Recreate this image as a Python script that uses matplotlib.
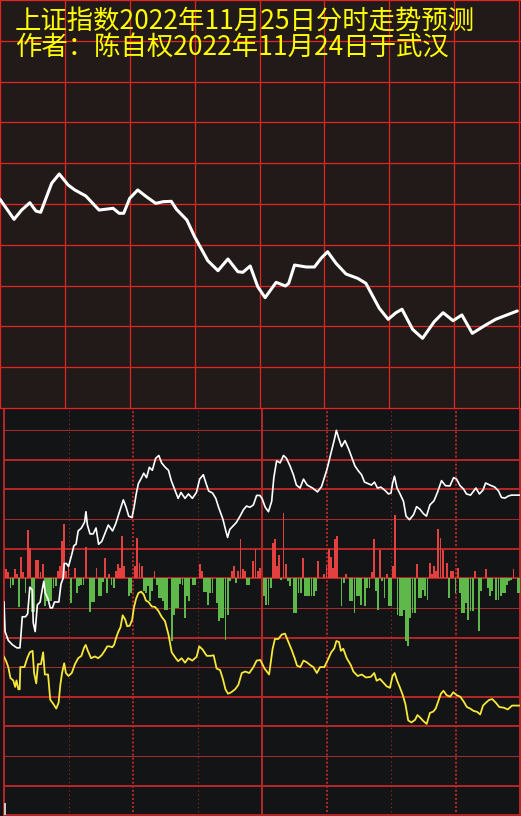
import matplotlib
matplotlib.use('Agg')
import matplotlib.pyplot as plt

# ---------------- data ----------------
title_lines = ["上证指数2022年11月25日分时走势预测", "作者：陈自权2022年11月24日于武汉"]

# forecast curve (upper panel): minute of session, index level
top_minutes = [0, 6.5, 10.0, 13.8, 16.6, 18.8, 23.9, 27.4, 31.5, 34.6, 39.7, 45.8, 52.3, 55.1, 57.2,
               60.0, 63.7, 67.7, 72.0, 75.4, 79.2, 81.6, 86.4, 90.0, 96.1, 100.8, 105.4, 110.0, 112.3,
               115.7, 119.2, 122.6, 127.7, 132.0, 133.5, 136.2, 141.6, 145.4, 148.5, 151.5, 155.4,
               160.0, 165.4, 169.2, 175.4, 179.5, 183.1, 185.9, 190.8, 195.4, 200.8, 204.9, 209.5,
               213.6, 218.4, 224.6, 229.2, 239.2]
top_price = [3100.58, 3098.12, 3099.26, 3100.16, 3099.14, 3098.98, 3102.54, 3103.68, 3102.33, 3101.72,
             3100.98, 3099.26, 3099.47, 3098.86, 3098.86, 3100.70, 3101.72, 3100.89, 3100.08, 3100.28,
             3100.33, 3099.35, 3098.04, 3095.99, 3093.05, 3091.83, 3093.26, 3091.70, 3091.63, 3092.40,
             3089.86, 3088.52, 3090.40, 3089.95, 3090.28, 3092.52, 3092.28, 3092.28, 3093.35, 3094.15,
             3092.73, 3091.42, 3090.89, 3090.28, 3087.22, 3085.87, 3086.68, 3087.10, 3084.64, 3083.54,
             3085.58, 3086.68, 3085.70, 3086.40, 3084.15, 3085.17, 3085.87, 3086.89]

# actual intraday screenshot (lower panel): % change vs previous close
white_minutes = [0, 0.5, 2, 4, 6, 7.4, 7.8, 8.5, 10, 11, 12, 13.2, 13.6, 14.5, 15.5, 16.8, 17.5, 18.5,
                 19.2, 20.5, 21.5, 22.5, 23.5, 25.5, 26.5, 27.5, 28, 29, 30, 31.5, 32.5, 33.5, 34.5, 36,
                 37.5, 38.1, 38.8, 40, 41.5, 42.8, 44, 45.5, 47, 48.5, 50.5, 52, 53.5, 55.5, 56.8, 58,
                 59.5, 60.5, 61.5, 62.5, 64, 65, 66.3, 67.6, 69, 70.5, 72, 73.3, 75, 76.5, 77.8, 79.5,
                 81, 82.3, 84.2, 85.8, 87.6, 89.5, 91, 92.7, 94, 95.2, 97, 98.5, 99.8, 101.8, 103, 104,
                 105, 106.7, 108, 109.8, 111.4, 112.8, 114.4, 116, 117.5, 119, 120, 121.5, 123, 124.5,
                 125.5, 126.8, 128.4, 130, 131.4, 133, 134.6, 136, 137.7, 139.3, 141, 143.5, 145.8,
                 147.7, 149, 150.3, 151.8, 153.7, 154.6, 155.6, 157, 158.6, 160.4, 161.9, 163.2, 164.9,
                 166.3, 167.7, 169.3, 170.9, 172.3, 173.7, 175.3, 177.2, 178.8, 180, 180.7, 181.6,
                 182.8, 184.2, 185.8, 187, 188.6, 190.5, 191.9, 193.5, 195.1, 196.5, 198.1, 200, 201.6,
                 203.5, 205.3, 207.4, 209.1, 210.5, 212.1, 213.7, 215.1, 217, 219.5, 221.1, 222.8, 224,
                 226, 228.3, 230, 231.4, 233, 234.6, 236, 240]
white_pct = [-0.08, -0.18, -0.21, -0.225, -0.235, -0.235, -0.20, -0.13, -0.13, -0.12, -0.03, -0.04,
             -0.15, -0.18, -0.09, -0.08, -0.05, -0.01, -0.05, -0.07, -0.10, -0.10, -0.08, -0.08, -0.02,
             0.0, 0.05, 0.05, 0.04, 0.08, 0.11, 0.115, 0.16, 0.17, 0.19, 0.225, 0.18, 0.15, 0.15, 0.17,
             0.115, 0.125, 0.153, 0.18, 0.16, 0.185, 0.22, 0.265, 0.24, 0.21, 0.205, 0.24, 0.285,
             0.32, 0.34, 0.355, 0.34, 0.375, 0.365, 0.405, 0.415, 0.39, 0.375, 0.365, 0.33, 0.298,
             0.27, 0.29, 0.27, 0.285, 0.27, 0.29, 0.335, 0.35, 0.32, 0.295, 0.288, 0.27, 0.24, 0.20,
             0.165, 0.138, 0.165, 0.178, 0.188, 0.21, 0.232, 0.244, 0.24, 0.248, 0.28, 0.28, 0.27,
             0.24, 0.225, 0.26, 0.34, 0.397, 0.39, 0.415, 0.405, 0.38, 0.35, 0.315, 0.305, 0.335,
             0.315, 0.305, 0.292, 0.31, 0.34, 0.37, 0.415, 0.47, 0.50, 0.475, 0.445, 0.465, 0.435,
             0.405, 0.38, 0.362, 0.35, 0.325, 0.32, 0.315, 0.325, 0.305, 0.308, 0.297, 0.285, 0.288,
             0.32, 0.345, 0.305, 0.285, 0.26, 0.21, 0.198, 0.215, 0.242, 0.233, 0.218, 0.21, 0.248,
             0.262, 0.29, 0.33, 0.313, 0.312, 0.34, 0.335, 0.313, 0.302, 0.285, 0.281, 0.305, 0.285,
             0.298, 0.322, 0.315, 0.308, 0.295, 0.273, 0.271, 0.278, 0.281, 0.281]

yellow_minutes = [0, 1, 2, 3, 4.3, 5.2, 5.8, 6.7, 7.3, 7.6, 9.5, 10.8, 12, 13.3, 14, 15, 15.8, 17.2, 18.2,
                  19, 20.5, 21.5, 23, 24.3, 25.4, 26.2, 27, 28, 28.8, 30, 31.5, 33, 34.5, 36, 37.2, 38,
                  39, 40.5, 42.3, 43.8, 45.4, 46.8, 48, 49.2, 50.3, 51.2, 52.2, 53.2, 54.2, 55.2, 56.4,
                  57.3, 58.5, 59.6, 60.4, 61.4, 62.5, 63.8, 65, 66, 67.2, 68.7, 70.3, 71.8, 73.3, 74.9,
                  76.5, 78, 79.9, 81, 82.6, 84.2, 85.7, 87.6, 89.6, 90.8, 92.3, 94.3, 96, 97.5, 98.9,
                  100.5, 101.8, 103, 104.2, 105.7, 107.5, 109, 110.6, 112.2, 114.1, 116, 117.5, 119.2,
                  121.2, 123.3, 124.9, 126, 127.6, 129.2, 130.7, 132.3, 133.8, 135.2, 136.3, 137.8,
                  139.3, 140.9, 142.4, 143.9, 145.5, 147, 149, 150.6, 152.2, 153.6, 154.6, 155.8, 156.7,
                  157.8, 159.4, 161.3, 162.5, 164.5, 166.4, 168.3, 170.6, 172.2, 173.3, 174.9, 176.5,
                  178, 179.5, 180.7, 181.7, 182.8, 184.2, 185.5, 186.7, 188, 189.5, 191.2, 192.3, 193.5,
                  195, 196.6, 198.1, 199.7, 200.8, 202, 203.2, 204.4, 205.9, 207.5, 209, 210.6, 212.2,
                  213.7, 215.3, 216.8, 218.4, 220, 221.5, 222.8, 224.2, 225.6, 227.1, 228.7, 230.4,
                  232.4, 234.3, 236.3, 240]
yellow_pct = [-0.265, -0.28, -0.30, -0.337, -0.345, -0.367, -0.345, -0.375, -0.375, -0.30, -0.30, -0.27,
              -0.25, -0.245, -0.32, -0.355, -0.29, -0.29, -0.25, -0.325, -0.325, -0.41, -0.425, -0.44,
              -0.42, -0.36, -0.32, -0.287, -0.32, -0.33, -0.32, -0.29, -0.27, -0.262, -0.235, -0.225,
              -0.245, -0.27, -0.264, -0.27, -0.26, -0.245, -0.23, -0.23, -0.233, -0.225, -0.20, -0.18,
              -0.165, -0.125, -0.14, -0.162, -0.16, -0.14, -0.10, -0.07, -0.05, -0.045, -0.055, -0.075,
              -0.08, -0.095, -0.097, -0.11, -0.13, -0.145, -0.19, -0.25, -0.27, -0.28, -0.27, -0.285,
              -0.27, -0.278, -0.265, -0.23, -0.24, -0.262, -0.262, -0.26, -0.305, -0.31, -0.34, -0.375,
              -0.39, -0.385, -0.375, -0.36, -0.32, -0.315, -0.32, -0.30, -0.278, -0.276, -0.305, -0.325,
              -0.24, -0.205, -0.205, -0.19, -0.187, -0.215, -0.242, -0.27, -0.295, -0.30, -0.278,
              -0.284, -0.293, -0.30, -0.32, -0.30, -0.30, -0.276, -0.25, -0.237, -0.212, -0.215, -0.245,
              -0.238, -0.27, -0.293, -0.315, -0.33, -0.325, -0.335, -0.333, -0.32, -0.346, -0.34,
              -0.353, -0.365, -0.37, -0.33, -0.32, -0.345, -0.37, -0.395, -0.425, -0.48, -0.487, -0.478,
              -0.462, -0.47, -0.482, -0.492, -0.455, -0.45, -0.44, -0.415, -0.39, -0.38, -0.395, -0.40,
              -0.385, -0.395, -0.40, -0.415, -0.435, -0.44, -0.448, -0.451, -0.46, -0.43, -0.42,
              -0.411, -0.408, -0.42, -0.435, -0.437, -0.443, -0.43, -0.43]

# buy/sell strength bars (minute, value) - positive red, negative green
bar_minutes = [1, 2, 5, 6, 8, 9, 11, 12, 15, 16, 17, 18, 25, 26, 27, 28, 29, 30, 33, 38, 43, 47, 49, 52,
               53, 54, 55, 56, 61, 62, 63, 64, 70, 91, 92, 106, 107, 109, 110, 111, 112, 116, 117, 118,
               119, 125, 126, 127, 128, 130, 131, 139, 146, 149, 150, 151, 152, 153, 154, 155, 159, 171,
               172, 175, 178, 181, 182, 192, 198, 199, 200, 201, 202, 203, 204, 206, 208, 209, 211, 219,
               224, 237,
               3, 4, 7, 10, 13, 14, 19, 20, 21, 22, 23, 24, 31, 34, 35, 36, 37, 40, 41, 42, 44, 45, 46,
               48, 50, 51, 58, 59, 65, 66, 67, 68, 69, 71, 72, 73, 74, 75, 76, 78, 79, 80, 81, 82, 83,
               84, 85, 86, 88, 89, 93, 94, 95, 96, 97, 99, 100, 101, 102, 103, 104, 105, 108, 113, 114,
               121, 122, 123, 124, 129, 132, 133, 135, 136, 137, 138, 140, 141, 142, 143, 144, 145, 157,
               158, 161, 162, 163, 164, 165, 166, 168, 169, 170, 173, 174, 176, 177, 179, 180, 183, 184,
               185, 186, 187, 188, 189, 190, 191, 193, 194, 195, 196, 197, 207, 210, 212, 213, 214, 215,
               216, 217, 218, 221, 222, 225, 226, 227, 229, 230, 231, 232, 233, 234, 235, 236, 239, 240]
bar_values = [0.030, 0.021, 0.030, 0.014, 0.071, 0.021, 0.162, 0.104, 0.061, 0.061, 0.020, 0.047, 0.023,
              0.041, 0.125, 0.182, 0.023, 0.047, 0.034, 0.105, 0.034, 0.068, 0.014, 0.023, 0.047, 0.034,
              0.142, 0.041, 0.041, 0.135, 0.051, 0.041, 0.024, 0.047, 0.023, 0.023, 0.041, 0.024, 0.132,
              0.030, 0.024, 0.057, 0.098, 0.024, 0.034, 0.118, 0.132, 0.041, 0.078, 0.220, 0.047, 0.068,
              0.057, 0.014, 0.041, 0.098, 0.071, 0.034, 0.132, 0.142, 0.014, 0.021, 0.132, 0.095, 0.014,
              0.041, 0.213, 0.047, 0.051, 0.014, 0.041, 0.024, 0.166, 0.135, 0.095, 0.051, 0.024, 0.023,
              0.034, 0.024, 0.030, 0.030,
              -0.034, -0.023, -0.098, -0.051, -0.115, -0.115, -0.095, -0.078, -0.078, -0.078, -0.034,
              -0.027, -0.084, -0.051, -0.027, -0.024, -0.024, -0.115, -0.081, -0.081, -0.061, -0.061,
              -0.014, -0.051, -0.024, -0.034, -0.061, -0.051, -0.044, -0.051, -0.027, -0.078, -0.044,
              -0.024, -0.068, -0.068, -0.078, -0.108, -0.108, -0.213, -0.125, -0.101, -0.101, -0.020,
              -0.024, -0.135, -0.061, -0.078, -0.024, -0.024, -0.047, -0.047, -0.091, -0.051, -0.051,
              -0.084, -0.145, -0.135, -0.135, -0.209, -0.125, -0.010, -0.017, -0.024, -0.024, -0.061,
              -0.091, -0.091, -0.034, -0.007, -0.010, -0.027, -0.118, -0.118, -0.051, -0.051, -0.061,
              -0.061, -0.061, -0.061, -0.061, -0.044, -0.095, -0.017, -0.078, -0.078, -0.118, -0.061,
              -0.061, -0.091, -0.095, -0.034, -0.034, -0.044, -0.108, -0.010, -0.068, -0.095, -0.095,
              -0.125, -0.128, -0.128, -0.108, -0.213, -0.230, -0.135, -0.118, -0.118, -0.068, -0.068,
              -0.041, -0.061, -0.074, -0.068, -0.051, -0.051, -0.118, -0.118, -0.084, -0.142, -0.111,
              -0.111, -0.179, -0.044, -0.034, -0.061, -0.044, -0.074, -0.074, -0.061, -0.051, -0.051,
              -0.024, -0.010, -0.007, -0.051, -0.051]

first_volume = 0.04

# ---------------- figure ----------------
W, H = 521, 816
fig = plt.figure(figsize=(W / 100, H / 100), dpi=100)
fig.patch.set_facecolor('#121315')

# upper panel (forecast)
px_per_min_top = 519 / 240
ax1 = fig.add_axes([0, 0.5, 1, 0.5])
ax1.set_zorder(2)
ax1.set_facecolor('#211a18')
ax1.set_xlim(0, W / px_per_min_top)
ax1.set_ylim(3075, 3125)
for s in ax1.spines.values():
    s.set_visible(False)
ax1.set_xticks([])
ax1.set_yticks([])
grid_red = '#e52424'
for k in range(9):
    ax1.axvline(30 * k, color=grid_red, lw=0.9, clip_on=False, zorder=1)
for k in range(11):
    ax1.axhline(3075 + 5 * k, color=grid_red, lw=0.9, clip_on=False, zorder=1)
ax1.plot(top_minutes, top_price, color='white', lw=2.2, solid_joinstyle='round',
         solid_capstyle='round', zorder=3)

# lower panel (actual)
ax2 = fig.add_axes([4 / W, 0, 516 / W, 0.5])
ax2.set_facecolor('#131416')
ax2.set_xlim(0, 240)
ax2.set_ylim((578.3 - 816) / 296, (578.3 - 408) / 296)
for s in ax2.spines.values():
    s.set_visible(False)
ax2.set_xticks([])
ax2.set_yticks([])

thick_c = '#b32626'
thin_c = '#a02c2c'
thick_levels = [4, 3, 1, 0, -2, -4, -5, -7, -8]
thin_levels = [5, 2, -1, -3, -6]
for k in thick_levels:
    ax2.axhline(k / 10, color=thick_c, lw=1.45, zorder=1, clip_on=False)
for k in thin_levels:
    ax2.axhline(k / 10, color=thin_c, lw=0.75, zorder=1)
for m in [0, 120, 240]:
    ax2.axvline(m, color=thick_c, lw=1.45, zorder=1, clip_on=False)
for m in [30, 90, 180]:
    ax2.axvline(m, color=thick_c, lw=0.75, ls=(0, (1, 3)), zorder=1)
for m in [60, 150, 210]:
    ax2.axvline(m, color=thick_c, lw=1.45, ls=(0, (1, 1)), zorder=1)

pos_m = [m for m, v in zip(bar_minutes, bar_values) if v > 0]
pos_v = [v for v in bar_values if v > 0]
neg_m = [m for m, v in zip(bar_minutes, bar_values) if v < 0]
neg_v = [v for v in bar_values if v < 0]
ax2.bar(pos_m, pos_v, width=0.85, color='#e54040', linewidth=0, zorder=2)
ax2.bar(neg_m, neg_v, width=0.85, color='#5fb84a', linewidth=0, zorder=2)
ax2.bar([0.5], [first_volume], bottom=-0.8, width=0.9, color='#c8c8c8', linewidth=0, zorder=2)

ax2.plot(yellow_minutes, yellow_pct, color='#f6e73a', lw=1.3, zorder=3)
ax2.plot(white_minutes, white_pct, color='white', lw=1.2, zorder=4)

# title text
fam = ['Noto Sans CJK SC', 'DejaVu Sans']
fig.text(15 / W, 1 - 28.5 / H, title_lines[0], color='#ffff00', fontsize=19.0, family=fam,
         ha='left', va='baseline', zorder=10)
fig.text(15 / W, 1 - 54.5 / H, title_lines[1], color='#ffff00', fontsize=19.0, family=fam,
         ha='left', va='baseline', zorder=10)

fig.savefig('out.png', dpi=100, facecolor=fig.get_facecolor())
